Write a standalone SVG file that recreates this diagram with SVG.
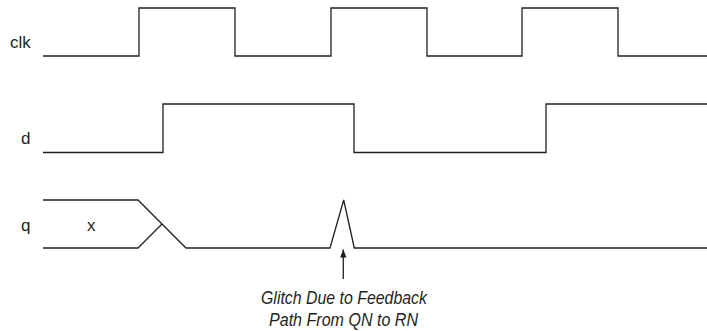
<svg xmlns="http://www.w3.org/2000/svg" width="707" height="331" viewBox="0 0 707 331">
<style>
.w{fill:none;stroke:#231f20;stroke-width:1.3;stroke-linejoin:miter}
.lbl{font-family:"Liberation Sans",Arial,sans-serif;font-size:17px;fill:#231f20}
.note{font-family:"Liberation Sans",Arial,sans-serif;font-size:18px;font-style:italic;fill:#231f20}
</style>
<defs>
<marker id="ah" viewBox="0 0 10 10" refX="10" refY="5" markerWidth="8" markerHeight="8" markerUnits="userSpaceOnUse" orient="auto">
<path d="M0,1 L10,5 L0,9 Z" fill="#231f20"/>
</marker>
</defs>
<g id="clk">
<text class="lbl" x="10" y="48">clk</text>
<path class="w" d="M43,56 H139 V8 H235 V56 H331 V8 H427 V56 H522 V8 H618 V56 H707"/>
</g>
<g id="d">
<text class="lbl" x="21" y="144">d</text>
<path class="w" d="M43,152.5 H163 V104 H354 V152.5 H546 V104 H707"/>
</g>
<g id="q">
<text class="lbl" x="21" y="231">q</text>
<text class="lbl" x="87" y="231">x</text>
<path class="w" d="M43,200 H138 L186,248 H330 L343.7,200 L354.3,248 H707"/>
<path class="w" d="M43,248 H138 L162,224"/>
</g>
<g id="connectors">
<line class="w" x1="343.3" y1="279" x2="343.3" y2="249.5" marker-end="url(#ah)"/>
</g>
<g id="note">
<text class="note" x="261" y="304" textLength="166" lengthAdjust="spacingAndGlyphs">Glitch Due to Feedback</text>
<text class="note" x="269" y="326" textLength="149" lengthAdjust="spacingAndGlyphs">Path From QN to RN</text>
</g>
</svg>
